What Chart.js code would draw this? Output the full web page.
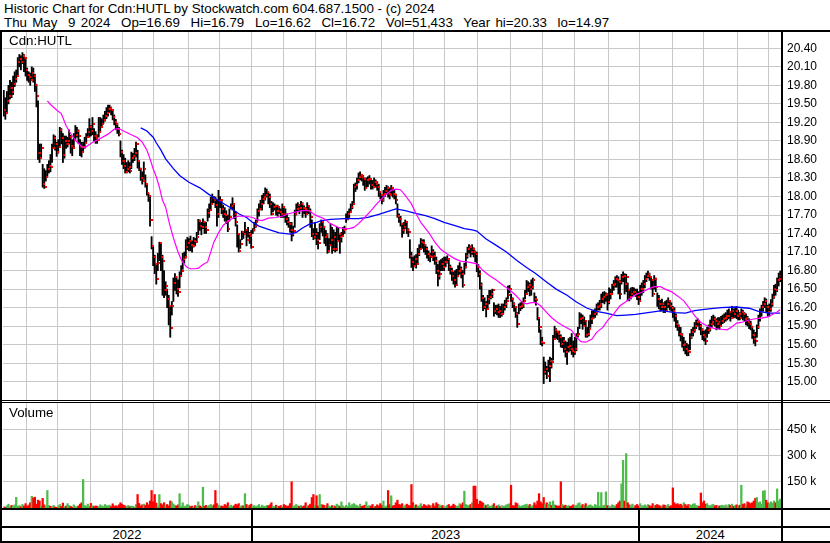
<!DOCTYPE html>
<html><head><meta charset="utf-8">
<script src="https://cdn.jsdelivr.net/npm/chart.js@4/dist/chart.umd.min.js"></script>
<style>
body{margin:0;background:#fff;}
#wrap{position:relative;width:830px;height:543px;overflow:hidden;background:#fff;font-family:"Liberation Sans",Arial,sans-serif;color:#000;}
.t{position:absolute;white-space:pre;font-size:13.33px;line-height:14px;}
.ln{position:absolute;background:#000;}
.yl{position:absolute;top:528px;height:13px;text-align:center;font-size:13px;line-height:14px;}
canvas{position:absolute;}
</style></head><body>
<div id="wrap">
<div class="t" style="left:4px;top:2px">Historic Chart for Cdn:HUTL by Stockwatch.com 604.687.1500 - (c) 2024</div>
<div class="t" style="left:4px;top:16px;word-spacing:1.6px">Thu May  9 2024  Op=16.69  Hi=16.79  Lo=16.62  Cl=16.72  Vol=51,433  Year hi=20.33  lo=14.97</div>
<canvas id="pc" width="830" height="368" style="left:0;top:32px;width:830px;height:368px"></canvas>
<canvas id="vc" width="830" height="105" style="left:0;top:403px;width:830px;height:105px"></canvas>
<div class="t" style="left:9px;top:34px">Cdn:HUTL</div>
<div class="t" style="left:9px;top:406px">Volume</div>
</div>
<script>
const closes = [
19.40,19.35,19.55,19.62,19.75,19.70,19.82,19.90,19.95,20.18,
20.22,20.18,20.28,20.24,20.05,19.97,19.93,19.88,20.00,19.95,
19.80,19.62,18.70,18.62,18.78,18.20,18.15,18.32,18.44,18.50,
18.47,18.78,18.95,18.85,18.72,18.80,19.08,18.95,18.68,18.90,
18.85,18.90,18.96,18.82,18.78,18.92,19.00,19.06,18.98,18.80,
18.72,18.80,18.86,18.96,19.04,19.12,19.06,19.18,18.98,18.94,
18.92,19.05,19.12,19.18,19.24,19.30,19.35,19.42,19.44,19.40,
19.28,19.20,19.17,19.10,19.02,18.72,18.58,18.50,18.40,18.45,
18.48,18.42,18.62,18.65,18.70,18.85,18.58,18.45,18.30,18.25,
18.45,18.21,18.06,18.00,17.62,17.20,17.02,16.90,16.66,16.92,
17.24,17.02,16.96,16.48,16.55,16.34,16.22,15.87,16.22,16.60,
16.69,16.50,16.46,16.72,16.80,16.98,17.02,17.18,17.24,17.28,
17.22,17.20,17.28,17.26,17.34,17.60,17.53,17.50,17.58,17.50,
17.45,17.74,17.78,17.88,17.98,17.94,17.86,17.72,17.92,17.94,
17.80,17.72,17.70,17.61,17.48,17.66,17.85,17.88,17.72,17.58,
17.40,17.12,17.23,17.42,17.39,17.45,17.29,17.40,17.36,17.19,
17.45,17.53,17.58,17.77,17.80,17.88,17.96,17.99,18.02,18.07,
17.99,17.88,17.72,17.83,17.85,17.77,17.83,17.75,17.72,17.83,
17.72,17.64,17.58,17.55,17.45,17.40,17.44,17.72,17.80,17.86,
17.82,17.88,17.82,17.80,17.72,17.85,17.77,17.66,17.40,17.34,
17.40,17.29,17.24,17.50,17.58,17.50,17.34,17.38,17.12,17.22,
17.29,17.15,17.34,17.15,17.28,17.40,17.34,17.36,17.45,17.48,
17.64,17.72,17.75,17.83,17.88,18.15,18.18,18.26,18.31,18.34,
18.31,18.29,18.13,18.26,18.28,18.29,18.18,18.15,18.23,18.20,
18.15,18.07,18.02,17.94,18.04,18.09,18.13,18.04,18.02,18.13,
18.04,18.02,17.94,17.69,17.64,17.56,17.45,17.50,17.58,17.45,
17.42,17.04,16.94,16.88,16.99,16.91,17.07,17.15,17.26,17.24,
17.21,17.15,17.07,17.04,17.02,17.10,17.04,16.96,16.80,16.72,
16.75,16.91,16.85,16.94,16.94,16.99,16.85,16.80,16.72,16.64,
16.56,16.72,16.80,16.83,16.75,16.56,16.85,17.04,17.15,17.18,
17.10,17.15,17.10,17.07,16.85,16.75,16.56,16.36,16.21,16.26,
16.18,16.34,16.37,16.42,16.48,16.15,16.18,16.13,16.15,16.10,
16.10,16.21,16.26,16.31,16.40,16.50,16.34,16.26,16.21,16.10,
15.94,16.21,16.23,16.26,16.31,16.42,16.53,16.56,16.50,16.53,
16.64,16.34,16.32,16.04,15.88,15.64,15.62,15.15,15.20,15.10,
15.26,15.34,15.32,15.69,15.83,15.80,15.77,15.72,15.61,15.66,
15.53,15.48,15.56,15.58,15.53,15.50,15.48,15.53,15.75,15.77,
16.02,16.04,15.91,15.99,15.75,15.77,15.85,16.02,16.04,16.10,
16.13,16.21,16.23,16.26,16.34,16.37,16.40,16.42,16.29,16.42,
16.42,16.56,16.58,16.66,16.64,16.61,16.42,16.69,16.72,16.58,
16.70,16.48,16.37,16.42,16.45,16.45,16.42,16.37,16.31,16.50,
16.50,16.58,16.66,16.72,16.75,16.69,16.64,16.42,16.66,16.53,
16.34,16.26,16.21,16.26,16.21,16.15,16.26,16.31,16.23,16.20,
16.15,16.07,15.94,15.91,15.77,15.75,15.60,15.61,15.53,15.50,
15.48,15.72,15.80,15.83,15.91,15.96,15.99,15.91,15.83,15.75,
15.72,15.66,15.83,15.85,15.94,15.96,16.02,15.99,15.94,15.96,
15.91,15.99,16.02,16.04,16.07,16.07,16.13,16.04,16.15,16.10,
16.15,16.07,16.10,16.04,16.13,16.10,16.02,16.04,15.96,15.94,
15.88,15.75,15.69,15.66,15.88,16.04,16.13,16.21,16.26,16.31,
16.21,16.13,16.18,16.26,16.37,16.50,16.48,16.64,16.66,16.72];

const highs = [
19.72,19.60,19.70,19.80,19.88,19.85,19.95,20.02,20.05,20.25,
20.30,20.28,20.33,20.30,20.22,20.08,20.02,20.00,20.10,20.08,
19.98,19.82,19.55,18.85,18.85,18.52,18.45,18.42,18.52,18.58,
18.68,18.85,19.00,18.98,18.88,18.92,19.12,19.10,19.02,18.98,
18.98,18.96,19.08,18.99,18.92,19.02,19.15,19.12,19.08,18.92,
18.88,18.88,18.96,19.02,19.10,19.26,19.15,19.28,19.10,19.05,
19.00,19.28,19.28,19.26,19.32,19.38,19.44,19.48,19.48,19.45,
19.38,19.32,19.25,19.18,19.12,18.90,18.75,18.68,18.62,18.55,
18.58,18.55,18.72,18.70,18.78,18.88,18.75,18.56,18.46,18.40,
18.56,18.35,18.20,18.05,17.99,17.35,17.18,17.05,16.90,17.08,
17.26,17.25,17.05,16.80,16.62,16.50,16.40,16.23,16.30,16.68,
16.75,16.70,16.65,16.78,16.88,17.08,17.10,17.30,17.34,17.32,
17.36,17.28,17.34,17.32,17.42,17.63,17.62,17.58,17.64,17.60,
17.58,17.80,17.88,17.99,18.04,18.00,17.99,17.95,18.10,18.00,
17.92,17.86,17.82,17.77,17.70,17.80,17.88,17.98,17.86,17.75,
17.54,17.40,17.30,17.44,17.42,17.58,17.44,17.50,17.42,17.45,
17.48,17.58,17.62,17.80,17.88,17.94,18.02,18.05,18.14,18.12,
18.07,18.04,17.92,17.90,17.88,17.86,17.86,17.84,17.80,17.88,
17.83,17.80,17.72,17.66,17.58,17.58,17.52,17.78,17.88,17.90,
17.86,17.92,17.90,17.85,17.82,17.90,17.85,17.80,17.62,17.48,
17.58,17.48,17.42,17.56,17.62,17.60,17.52,17.45,17.40,17.32,
17.56,17.50,17.46,17.42,17.50,17.50,17.40,17.42,17.50,17.52,
17.72,17.76,17.80,17.88,17.92,18.20,18.22,18.30,18.38,18.40,
18.36,18.34,18.30,18.30,18.32,18.34,18.28,18.26,18.30,18.27,
18.24,18.20,18.08,18.02,18.10,18.15,18.18,18.16,18.14,18.18,
18.15,18.10,18.04,17.88,17.72,17.68,17.56,17.58,17.62,17.58,
17.48,17.30,17.10,17.02,17.04,17.06,17.16,17.22,17.32,17.30,
17.30,17.22,17.18,17.12,17.08,17.20,17.14,17.10,17.02,16.90,
16.96,16.98,17.00,17.02,17.02,17.04,16.98,16.89,16.84,16.78,
16.80,16.82,16.88,16.93,16.86,16.80,16.92,17.08,17.18,17.22,
17.20,17.22,17.17,17.12,17.10,16.90,16.80,16.60,16.40,16.36,
16.30,16.40,16.48,16.48,16.50,16.28,16.24,16.24,16.26,16.22,
16.26,16.26,16.32,16.36,16.55,16.56,16.42,16.36,16.28,16.20,
16.12,16.26,16.28,16.30,16.36,16.48,16.64,16.62,16.60,16.65,
16.68,16.44,16.38,16.20,16.04,15.84,15.72,15.40,15.32,15.25,
15.35,15.40,15.38,15.75,15.90,15.86,15.82,15.82,15.76,15.72,
15.72,15.66,15.64,15.70,15.72,15.78,15.66,15.72,15.78,15.88,
16.12,16.10,16.08,16.05,15.98,15.88,15.99,16.08,16.15,16.15,
16.18,16.26,16.28,16.32,16.42,16.45,16.46,16.44,16.42,16.52,
16.50,16.58,16.64,16.70,16.72,16.70,16.64,16.74,16.78,16.75,
16.74,16.60,16.50,16.52,16.53,16.52,16.50,16.50,16.46,16.56,
16.60,16.64,16.72,16.76,16.79,16.76,16.70,16.66,16.72,16.68,
16.44,16.40,16.32,16.34,16.28,16.30,16.32,16.36,16.30,16.28,
16.22,16.20,16.10,15.99,15.92,15.88,15.78,15.72,15.66,15.62,
15.60,15.78,15.85,15.88,15.96,16.00,16.02,15.98,15.93,15.86,
15.82,15.84,15.88,15.92,16.00,16.06,16.08,16.05,16.02,16.04,
16.04,16.06,16.08,16.10,16.12,16.16,16.18,16.14,16.22,16.18,
16.20,16.22,16.16,16.12,16.18,16.16,16.12,16.10,16.06,16.02,
15.98,15.90,15.84,15.80,15.92,16.08,16.18,16.24,16.30,16.36,
16.34,16.24,16.26,16.33,16.42,16.56,16.58,16.68,16.76,16.79];

const lows = [
19.30,19.25,19.35,19.50,19.58,19.60,19.65,19.78,19.85,19.95,
20.10,20.05,20.15,20.02,19.95,19.88,19.85,19.80,19.88,19.85,
19.70,19.45,18.60,18.55,18.62,18.15,18.13,18.25,18.32,18.38,
18.40,18.55,18.80,18.75,18.65,18.70,18.80,18.85,18.55,18.62,
18.78,18.80,18.85,18.70,18.66,18.80,18.92,18.96,18.86,18.66,
18.64,18.72,18.78,18.88,18.96,18.96,18.98,19.00,18.90,18.86,
18.86,18.96,19.05,19.12,19.18,19.22,19.26,19.30,19.36,19.32,
19.24,19.16,19.08,19.02,18.98,18.64,18.52,18.45,18.38,18.38,
18.40,18.38,18.45,18.55,18.58,18.64,18.46,18.42,18.26,18.20,
18.28,18.15,18.02,17.92,17.52,17.15,16.88,16.75,16.58,16.80,
16.96,16.80,16.40,16.36,16.40,16.20,15.92,15.72,16.08,16.30,
16.48,16.42,16.38,16.52,16.70,16.82,16.92,17.00,17.14,17.12,
17.12,17.10,17.18,17.20,17.26,17.38,17.45,17.38,17.48,17.40,
17.40,17.60,17.66,17.80,17.88,17.90,17.82,17.52,17.66,17.82,
17.72,17.66,17.60,17.56,17.43,17.60,17.80,17.78,17.64,17.52,
17.18,17.10,17.16,17.30,17.32,17.38,17.20,17.34,17.24,17.16,
17.40,17.44,17.50,17.60,17.68,17.78,17.78,17.88,17.94,17.99,
17.88,17.82,17.70,17.75,17.78,17.70,17.68,17.72,17.66,17.66,
17.66,17.58,17.54,17.50,17.42,17.28,17.36,17.50,17.70,17.76,
17.72,17.78,17.66,17.72,17.66,17.72,17.72,17.50,17.35,17.30,
17.32,17.22,17.15,17.30,17.42,17.36,17.24,17.20,17.08,17.10,
17.20,17.08,17.12,17.10,17.12,17.30,17.08,17.26,17.36,17.40,
17.58,17.62,17.66,17.74,17.80,17.88,18.08,18.12,18.22,18.27,
18.25,18.18,18.10,18.14,18.16,18.20,18.12,18.12,18.14,18.15,
18.10,18.00,17.96,17.88,17.92,18.00,18.04,17.99,17.96,18.04,
17.99,17.96,17.88,17.66,17.58,17.52,17.34,17.40,17.48,17.40,
17.35,17.00,16.85,16.80,16.86,16.84,16.92,17.04,17.14,17.16,
17.10,17.06,17.00,16.96,16.94,17.02,16.96,16.90,16.75,16.55,
16.66,16.80,16.80,16.80,16.86,16.92,16.80,16.74,16.64,16.58,
16.53,16.58,16.70,16.74,16.68,16.53,16.74,16.84,17.00,17.08,
17.02,17.06,17.02,16.94,16.78,16.70,16.50,16.30,16.15,16.18,
16.05,16.18,16.26,16.34,16.36,16.06,16.10,16.08,16.04,16.04,
16.06,16.10,16.16,16.20,16.34,16.44,16.30,16.20,16.14,16.04,
15.88,16.10,16.15,16.18,16.20,16.34,16.42,16.46,16.39,16.40,
16.50,16.30,16.24,16.00,15.80,15.60,15.58,14.97,15.12,15.05,
15.16,15.00,15.22,15.35,15.68,15.70,15.68,15.64,15.56,15.55,
15.48,15.40,15.28,15.48,15.50,15.44,15.40,15.44,15.50,15.72,
15.86,15.94,15.85,15.90,15.72,15.72,15.74,15.88,15.94,16.02,
16.04,16.08,16.16,16.16,16.20,16.28,16.26,16.30,16.16,16.26,
16.34,16.42,16.48,16.53,16.53,16.42,16.34,16.58,16.62,16.42,
16.46,16.31,16.31,16.34,16.38,16.40,16.38,16.33,16.25,16.30,
16.40,16.44,16.52,16.62,16.68,16.64,16.50,16.38,16.50,16.46,
16.22,16.18,16.14,16.16,16.12,16.12,16.15,16.20,16.16,16.14,
16.04,15.98,15.88,15.83,15.74,15.66,15.56,15.50,15.45,15.42,
15.42,15.52,15.70,15.74,15.80,15.86,15.90,15.84,15.76,15.68,
15.66,15.60,15.72,15.78,15.82,15.88,15.92,15.90,15.84,15.86,
15.85,15.90,15.94,15.96,15.98,16.00,16.02,15.98,16.04,16.03,
16.04,16.02,16.00,16.00,16.02,16.00,15.98,15.92,15.90,15.86,
15.84,15.70,15.62,15.58,15.72,15.86,15.98,16.06,16.14,16.20,
16.12,16.06,16.06,16.14,16.22,16.35,16.40,16.46,16.55,16.62];

// volume in thousands of shares
const volumes = [
8,5,12,22,6,15,10,18,61,9,
14,7,20,11,25,9,17,30,67,58,
62,22,45,40,12,55,18,10,100,14,
10,8,15,6,4,12,20,9,28,7,
11,25,14,9,5,18,8,6,12,22,
30,163,15,10,22,9,26,14,8,12,
10,7,18,12,9,20,14,11,16,8,
24,10,13,9,18,30,22,15,12,9,
14,8,11,10,6,20,77,26,12,18,
22,15,30,18,40,100,35,77,28,12,
77,25,18,30,14,20,12,40,35,22,
14,12,18,82,10,30,9,12,20,15,
8,11,6,14,9,35,12,7,119,10,
15,9,14,20,12,18,100,25,16,10,
12,8,20,14,30,10,16,9,13,22,
18,25,10,14,12,82,20,8,16,22,
10,14,8,12,20,6,16,10,9,15,
12,18,30,10,8,16,11,9,14,7,
20,15,9,12,25,150,10,14,20,12,
10,15,8,12,30,9,14,22,60,77,
14,70,12,77,20,18,15,10,25,12,
8,14,12,10,22,15,9,35,12,6,
15,10,30,12,20,25,18,14,9,22,
10,12,16,35,10,14,11,20,8,9,
18,12,25,14,40,9,12,100,20,70,
12,15,30,45,20,18,25,10,14,22,
16,12,134,30,14,18,10,12,25,8,
20,15,9,18,12,14,25,10,30,22,
18,12,14,9,10,15,20,8,12,22,
14,10,12,25,18,30,96,20,15,12,
20,30,125,125,50,22,40,35,28,18,
14,20,12,9,16,25,10,12,18,8,
15,10,12,18,20,25,130,14,12,30,
25,14,10,12,16,18,22,12,20,10,
14,30,18,40,82,35,25,60,20,30,
22,35,15,40,18,14,10,12,150,20,
12,16,10,14,9,12,18,10,15,25,
30,12,20,14,25,10,15,18,12,8,
20,14,90,10,88,12,16,92,14,10,
12,18,14,10,20,30,40,138,272,40,
311,30,18,12,22,10,14,20,12,25,
15,12,18,10,20,14,9,25,12,16,
20,14,12,10,18,15,12,20,9,14,
115,30,20,25,18,22,14,30,20,12,
20,18,15,22,25,14,12,10,86,30,
40,22,25,14,12,18,20,12,15,10,
12,14,16,10,18,12,20,15,22,10,
14,18,12,16,130,20,25,14,35,30,
25,30,40,55,60,30,35,22,96,100,
45,30,25,35,28,40,30,109,40,51.433];

// moving averages (bar index, value)
const fastMaIdx = [28,30,34,37,40,43,46,50,52,55,58,62,67,71,74,77,82,86,89,92,94,96,98,100,102,104,106,108,110,112,114,116,118,120,123,125,128,131,133,135,138,141,144,148,151,156,160,163,166,170,175,179,183,188,192,196,199,201,206,210,215,219,222,225,228,232,236,240,245,249,252,255,258,262,265,268,273,277,281,285,290,294,298,304,308,312,317,321,325,329,333,336,339,342,345,349,352,356,360,365,368,371,374,378,381,385,388,392,396,400,402,406,410,414,418,422,425,429,433,437,440,444,448,453,457,461,465,468,471,474,479,483,487,491,494,497,499];
const fastMaVal = [19.55,19.49,19.40,19.34,19.15,19.02,18.91,18.81,18.79,18.84,18.89,18.94,19.01,19.09,19.10,19.06,19.00,18.95,18.88,18.75,18.61,18.45,18.32,18.15,17.94,17.83,17.61,17.42,17.25,17.10,16.98,16.90,16.85,16.83,16.83,16.84,16.90,16.94,17.10,17.26,17.41,17.53,17.60,17.66,17.68,17.68,17.66,17.62,17.61,17.65,17.66,17.68,17.72,17.75,17.77,17.77,17.72,17.69,17.64,17.56,17.50,17.48,17.48,17.50,17.56,17.66,17.77,17.89,18.02,18.10,18.12,18.11,18.02,17.88,17.72,17.58,17.42,17.26,17.14,17.07,16.99,16.95,16.94,16.91,16.80,16.72,16.64,16.56,16.49,16.40,16.29,16.26,16.28,16.28,16.23,16.12,16.04,15.96,15.90,15.83,15.72,15.65,15.64,15.69,15.80,15.88,15.99,16.10,16.23,16.30,16.34,16.41,16.45,16.50,16.54,16.54,16.50,16.46,16.39,16.31,16.21,16.07,15.96,15.89,15.86,15.85,15.84,15.89,15.95,15.96,16.00,16.02,16.03,16.05,16.09,16.13,16.17];
const slowMaIdx = [88,92,96,98,101,104,109,113,119,126,132,139,145,151,156,160,164,171,177,184,188,192,197,201,204,210,219,228,234,241,247,252,258,264,271,277,283,290,296,301,304,310,317,323,330,336,342,349,355,362,368,375,381,387,394,400,406,414,423,431,438,444,453,461,470,479,485,492,499];
const slowMaVal = [19.11,19.06,18.96,18.87,18.75,18.61,18.45,18.34,18.23,18.14,18.03,17.92,17.83,17.72,17.66,17.58,17.52,17.46,17.41,17.39,17.42,17.49,17.56,17.58,17.61,17.63,17.64,17.64,17.66,17.71,17.76,17.80,17.77,17.73,17.69,17.64,17.58,17.53,17.48,17.46,17.44,17.31,17.20,17.10,16.96,16.85,16.75,16.61,16.50,16.40,16.29,16.19,16.14,16.11,16.07,16.08,16.09,16.12,16.15,16.12,16.11,16.15,16.18,16.20,16.21,16.19,16.14,16.11,16.11];

// first bar of each month (vertical grid), first bar of each year, tick values
const monthStarts = [15,35,56,77,97,119,139,160,180,201,221,243,264,284,305,326,347,367,389,409,430,450,472,492];
const yearStarts = [0,160,409];
const yearLabels = ['2022','2023','2024'];
const priceTicks = [15.00,15.30,15.60,15.90,16.20,16.50,16.80,17.10,17.40,17.70,18.00,18.30,18.60,18.90,19.20,19.50,19.80,20.10,20.40];
const volumeTicks = [150,300,450];

const N = closes.length;
const GRID = '#c8c8c8';
const FONT = "'Liberation Sans', Arial, sans-serif";
const RED = '#ff0000', GREEN = '#4cbb4c', GRAY = '#a0a0a0';

// close tick glyph: small red mark sitting just right of the high-low bar
const closeTick = document.createElement('canvas');
closeTick.width = 5; closeTick.height = 2;
(function () { const c = closeTick.getContext('2d'); c.fillStyle = RED; c.fillRect(3, 0, 2, 2); })();

const barData = closes.map((c, i) => ({x: i, y: [lows[i], highs[i]]}));
const closeData = closes.map((c, i) => ({x: i, y: c}));
const fastData = fastMaIdx.map((x, k) => ({x: x, y: fastMaVal[k]}));
const slowData = slowMaIdx.map((x, k) => ({x: x, y: slowMaVal[k]}));
const volData = volumes.map((v, i) => ({x: i, y: v}));
const volColors = closes.map((c, i) => i === 0 ? GRAY : (c > closes[i-1] ? GREEN : (c < closes[i-1] ? RED : GRAY)));

function xScale() {
  return {
    type: 'linear', min: -0.5, max: N - 0.5, offset: false,
    grid: {color: GRID, lineWidth: 1, drawTicks: false, offset: false},
    border: {display: false},
    ticks: {display: false},
    afterBuildTicks: s => { s.ticks = monthStarts.map(m => ({value: m - 0.5})); },
    afterFit: s => { s.height = 0; s.paddingLeft = 0; s.paddingRight = 0; s.paddingTop = 0; s.paddingBottom = 0; }
  };
}
function yScale(min, max, ticks, fmt) {
  return {
    position: 'right', min: min, max: max,
    grid: {color: GRID, lineWidth: 1, drawTicks: false},
    border: {display: false},
    ticks: {padding: 6, color: '#000', autoSkip: false, font: {family: FONT, size: 12}, callback: fmt},
    afterBuildTicks: s => { s.ticks = ticks.map(v => ({value: v})); },
    afterFit: s => { s.width = 49; s.paddingTop = 0; s.paddingBottom = 0; }
  };
}
function baseOptions(yOpts) {
  return {
    responsive: false, animation: false, devicePixelRatio: 1, events: [],
    layout: {padding: {left: 3, right: 0, top: 0, bottom: 0}, autoPadding: false},
    plugins: {legend: {display: false}, tooltip: {enabled: false}},
    scales: {x: xScale(), y: yOpts}
  };
}

const pChart = new Chart(document.getElementById('pc'), {
  type: 'bar',
  data: {datasets: [
    {type: 'line', data: fastData, borderColor: '#ff00ff', borderWidth: 1.2, pointRadius: 0, fill: false, order: 0},
    {type: 'line', data: slowData, borderColor: '#0000ff', borderWidth: 1.3, pointRadius: 0, fill: false, order: 0},
    {type: 'line', data: closeData, showLine: false, pointStyle: closeTick, pointRadius: 2, order: 1},
    {type: 'bar', data: barData, backgroundColor: '#000', barThickness: 1.2, order: 2}
  ]},
  options: baseOptions(yScale(14.704, 20.664, priceTicks, v => Number(v).toFixed(2)))
});

const vChart = new Chart(document.getElementById('vc'), {
  type: 'bar',
  data: {datasets: [
    {type: 'bar', data: volData, backgroundColor: volColors, barThickness: 1.6}
  ]},
  options: baseOptions(yScale(0, 600, volumeTicks, v => v + ' k'))
});

const wrap = document.getElementById('wrap');
function addLine(l, t, w, h) {
  const d = document.createElement('div');
  d.className = 'ln';
  d.style.left = l + 'px'; d.style.top = t + 'px'; d.style.width = w + 'px'; d.style.height = h + 'px';
  wrap.appendChild(d);
}
const xs = pChart.scales.x;
addLine(0, 30, 830, 2);
addLine(0, 400, 830, 1);
addLine(0, 402, 830, 1);
addLine(0, 508, 830, 2);
addLine(0, 526, 830, 2);
addLine(0, 541, 830, 2);
addLine(0, 30, 2, 513);
addLine(Math.round(xs.right), 30, 2, 513);
yearStarts.forEach((s, k) => {
  const l = k === 0 ? 2 : xs.getPixelForValue(s - 0.5);
  const r = k + 1 < yearStarts.length ? xs.getPixelForValue(yearStarts[k + 1] - 0.5) : xs.right;
  if (k > 0) addLine(Math.round(l) - 1, 508, 2, 35);
  const d = document.createElement('div');
  d.className = 'yl';
  d.style.left = l + 'px';
  d.style.width = (r - l) + 'px';
  d.textContent = yearLabels[k];
  wrap.appendChild(d);
});
</script>
</body></html>
